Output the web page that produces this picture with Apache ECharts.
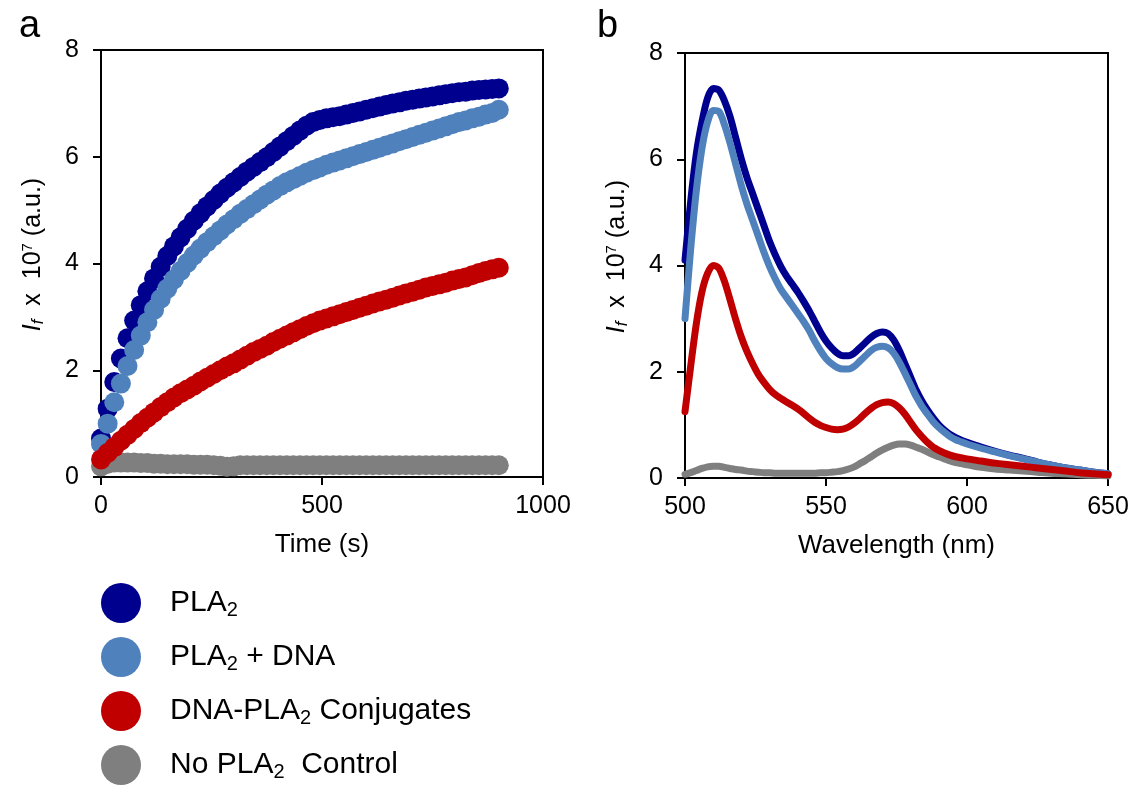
<!DOCTYPE html>
<html><head><meta charset="utf-8">
<script src="https://cdn.jsdelivr.net/npm/echarts@6/dist/echarts.min.js"></script>
<style>html,body{margin:0;padding:0;background:#fff;}#c{width:1135px;height:785px;}</style>
</head><body><div id="c"></div>
<script>
// ---- Panel a: kinetics (time in s) ----
const timeS = [0,15,30,45,60,75,90,105,120,135,150,165,180,195,210,225,240,255,270,285,300,315,330,345,360,375,390,405,420,435,450,465,480,495,510,525,540,555,570,585,600,615,630,645,660,675,690,705,720,735,750,765,780,795,810,825,840,855,870,885,900];
const kinPLA2 = [0.72,1.28,1.78,2.22,2.6,2.93,3.22,3.48,3.72,3.94,4.14,4.32,4.49,4.65,4.8,4.94,5.07,5.19,5.31,5.42,5.52,5.62,5.72,5.81,5.9,5.99,6.09,6.19,6.29,6.39,6.49,6.58,6.65,6.69,6.72,6.74,6.76,6.79,6.82,6.85,6.88,6.91,6.94,6.97,7.0,7.02,7.05,7.07,7.09,7.11,7.13,7.15,7.17,7.19,7.21,7.22,7.24,7.25,7.26,7.27,7.28];
const kinPLA2DNA = [0.62,1.0,1.4,1.75,2.08,2.38,2.65,2.9,3.13,3.34,3.53,3.7,3.86,4.01,4.15,4.28,4.4,4.51,4.62,4.73,4.83,4.93,5.02,5.11,5.2,5.29,5.37,5.45,5.52,5.58,5.64,5.7,5.75,5.8,5.85,5.89,5.93,5.97,6.01,6.05,6.09,6.13,6.17,6.21,6.25,6.29,6.33,6.37,6.41,6.45,6.49,6.53,6.57,6.61,6.65,6.68,6.72,6.75,6.79,6.82,6.88];
const kinConj = [0.33,0.45,0.56,0.68,0.79,0.9,1.01,1.11,1.21,1.31,1.4,1.49,1.57,1.64,1.71,1.79,1.86,1.93,2.0,2.07,2.13,2.2,2.27,2.34,2.4,2.46,2.53,2.59,2.65,2.71,2.77,2.83,2.88,2.93,2.97,3.01,3.05,3.09,3.13,3.17,3.21,3.25,3.29,3.32,3.36,3.4,3.44,3.47,3.51,3.55,3.58,3.61,3.64,3.68,3.71,3.74,3.78,3.82,3.86,3.89,3.92];
const kinCtrl = [0.2,0.25,0.27,0.27,0.27,0.27,0.26,0.26,0.25,0.25,0.24,0.24,0.24,0.24,0.23,0.23,0.23,0.22,0.21,0.19,0.2,0.22,0.22,0.22,0.22,0.22,0.22,0.22,0.22,0.22,0.22,0.22,0.22,0.22,0.22,0.22,0.22,0.22,0.22,0.22,0.22,0.22,0.22,0.22,0.22,0.22,0.22,0.22,0.22,0.22,0.22,0.22,0.22,0.22,0.22,0.22,0.22,0.22,0.22,0.22,0.22];

// ---- Panel b: emission spectra (wavelength in nm) ----
const wavelengthNm = [500,502,504,506,508,510,512,514,516,518,520,522,524,526,528,530,532,534,536,538,540,542,544,546,548,550,552,554,556,558,560,562,564,566,568,570,572,574,576,578,580,582,584,586,588,590,592,594,596,598,600,605,610,615,620,625,630,635,640,645,650];
const specPLA2 = [4.1,5.2,6.1,6.7,7.15,7.33,7.3,7.1,6.8,6.4,6.0,5.65,5.35,5.05,4.75,4.45,4.2,3.98,3.8,3.65,3.5,3.33,3.15,2.95,2.75,2.58,2.45,2.35,2.3,2.3,2.35,2.45,2.55,2.65,2.72,2.75,2.72,2.6,2.4,2.15,1.9,1.65,1.45,1.28,1.13,1.0,0.9,0.82,0.76,0.71,0.67,0.58,0.5,0.43,0.37,0.3,0.24,0.19,0.15,0.11,0.08];
const specPLA2DNA = [3.0,4.3,5.4,6.2,6.7,6.92,6.9,6.65,6.3,5.9,5.5,5.15,4.85,4.55,4.25,3.98,3.75,3.55,3.4,3.25,3.1,2.95,2.78,2.58,2.4,2.25,2.15,2.08,2.05,2.05,2.1,2.2,2.3,2.4,2.46,2.48,2.45,2.35,2.18,1.97,1.75,1.53,1.35,1.2,1.06,0.95,0.86,0.78,0.72,0.68,0.64,0.56,0.49,0.42,0.36,0.3,0.24,0.19,0.15,0.11,0.08];
const specConj = [1.25,2.1,2.9,3.5,3.85,4.0,3.95,3.7,3.35,2.98,2.65,2.38,2.15,1.95,1.8,1.67,1.57,1.5,1.43,1.37,1.3,1.22,1.13,1.05,0.99,0.95,0.92,0.91,0.92,0.96,1.03,1.12,1.22,1.31,1.38,1.42,1.43,1.4,1.32,1.2,1.05,0.9,0.78,0.67,0.58,0.52,0.47,0.43,0.4,0.38,0.36,0.32,0.28,0.25,0.22,0.19,0.16,0.13,0.1,0.08,0.06];
const specCtrl = [0.07,0.1,0.14,0.18,0.21,0.22,0.22,0.2,0.18,0.16,0.15,0.13,0.12,0.11,0.1,0.1,0.09,0.09,0.09,0.09,0.09,0.09,0.09,0.09,0.1,0.1,0.11,0.12,0.14,0.17,0.21,0.27,0.33,0.4,0.47,0.53,0.58,0.62,0.64,0.64,0.62,0.58,0.54,0.49,0.44,0.4,0.36,0.32,0.29,0.27,0.25,0.2,0.17,0.15,0.13,0.11,0.09,0.08,0.06,0.05,0.04];

const seriesNames = ['PLA2', 'PLA2 + DNA', 'DNA-PLA2 Conjugates', 'No PLA2  Control'];
const seriesColors = ['#00008f', '#4f81bd', '#c00000', '#7f7f7f'];
const yTicks = [0, 2, 4, 6, 8];
const panelLetters = ['a', 'b'];

const FONT = 'Liberation Sans, Arial, sans-serif';
function pairs(xs, ys){ return xs.map((x,i)=>[x, ys[i]]); }

const yName = '{i|I}{isub|f}{n|  x  10}{sup|7}{n| (a.u.)}';
const yNameRich = {
  i:{fontSize:25, fontStyle:'italic', fontFamily:FONT, color:'#000', padding:[0,0,0,18]},
  isub:{fontSize:17, fontStyle:'italic', fontFamily:FONT, color:'#000', padding:[10,0,0,0]},
  n:{fontSize:25, fontFamily:FONT, color:'#000'},
  sup:{fontSize:15, fontFamily:FONT, color:'#000', padding:[0,0,12,0]}
};

function xAx(grid, min, max, interval, name){
  return {type:'value', gridIndex:grid, min:min, max:max, interval:interval,
    name:name, nameLocation:'middle', nameGap:55,
    nameTextStyle:{fontSize:26, fontFamily:FONT, color:'#000'},
    axisLine:{show:true, onZero:false, lineStyle:{color:'#000', width:2}},
    axisTick:{show:true, length:8, lineStyle:{color:'#000', width:2}},
    axisLabel:{fontSize:25, fontFamily:FONT, color:'#000', margin:17, formatter: v => String(v)},
    splitLine:{show:false}};
}
function yAx(grid){
  return {type:'value', gridIndex:grid, min:yTicks[0], max:yTicks[yTicks.length-1], interval:yTicks[1]-yTicks[0],
    name:yName, nameLocation:'middle', nameGap:54,
    nameTextStyle:{rich:yNameRich},
    axisLine:{show:true, onZero:false, lineStyle:{color:'#000', width:2}},
    axisTick:{show:true, length:8, lineStyle:{color:'#000', width:2}},
    axisLabel:{fontSize:25, fontFamily:FONT, color:'#000', margin:22},
    splitLine:{show:false}};
}

const kin = [kinPLA2, kinPLA2DNA, kinConj, kinCtrl];
const spec = [specPLA2, specPLA2DNA, specConj, specCtrl];
const drawOrder = [3, 0, 1, 2];

const series = [];
drawOrder.forEach(k => {
  series.push({type:'scatter', name:seriesNames[k], xAxisIndex:0, yAxisIndex:0,
    data:pairs(timeS, kin[k]), symbol:'circle', symbolSize:20,
    itemStyle:{color:seriesColors[k], opacity:1}, silent:true});
});
drawOrder.forEach(k => {
  series.push({type:'line', name:seriesNames[k], xAxisIndex:1, yAxisIndex:1,
    data:pairs(wavelengthNm, spec[k]), showSymbol:false, smooth:0.3,
    lineStyle:{color:seriesColors[k], width:7, cap:'round', join:'round'},
    itemStyle:{color:seriesColors[k]}, silent:true});
});

const chart = echarts.init(document.getElementById('c'), null, {renderer:'canvas'});
chart.setOption({
  animation:false,
  backgroundColor:'#fff',
  grid:[
    {left:101, top:50, width:442, height:427, show:true, borderColor:'#000', borderWidth:2, backgroundColor:'transparent'},
    {left:685, top:53, width:423, height:425, show:true, borderColor:'#000', borderWidth:2, backgroundColor:'transparent'}
  ],
  xAxis:[xAx(0, 0, 1000, 500, 'Time (s)'), xAx(1, 500, 650, 50, 'Wavelength (nm)')],
  yAxis:[yAx(0), yAx(1)],
  legend:{
    data:seriesNames.map((n,i)=>({name:n, itemStyle:{color:seriesColors[i]}})),
    orient:'vertical', left:101, top:583, height:210, padding:0,
    itemWidth:40, itemHeight:40, itemGap:14,
    icon:'circle', selectedMode:false,
    formatter: n => n.replace(/PLA2/g, 'PLA{sub|2}'),
    textStyle:{fontSize:30, fontFamily:FONT, color:'#000', padding:[0,0,0,24],
      rich:{sub:{fontSize:20, fontFamily:FONT, color:'#000', padding:[15,0,0,0]}}}
  },
  graphic:[
    {type:'text', left:19, top:8, style:{text:panelLetters[0], fontSize:38, fontFamily:FONT, fill:'#000'}},
    {type:'text', left:597, top:8, style:{text:panelLetters[1], fontSize:38, fontFamily:FONT, fill:'#000'}}
  ],
  series:series
});
</script></body></html>
